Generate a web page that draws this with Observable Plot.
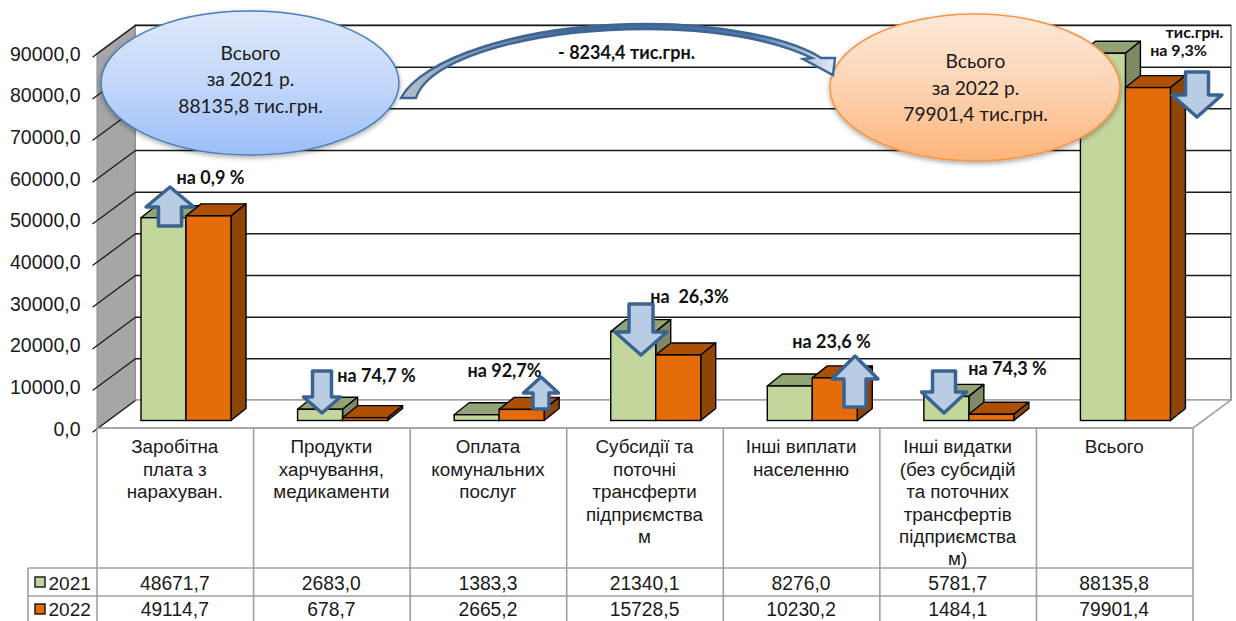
<!DOCTYPE html>
<html><head><meta charset="utf-8">
<style>html,body{margin:0;padding:0;background:#fff}svg{display:block}</style>
<script src="https://cdn.jsdelivr.net/npm/d3@7"></script>
<script src="https://cdn.jsdelivr.net/npm/@observablehq/plot@0.6"></script>
</head><body><script>
const categories = ["Заробітна\nплата з\nнарахуван.","Продукти\nхарчування,\nмедикаменти","Оплата\nкомунальних\nпослуг","Субсидії та\nпоточні\nтрансферти\nпідприємства\nм","Інші виплати\nнаселенню","Інші видатки\n(без субсидій\nта поточних\nтрансфертів\nпідприємства\nм)","Всього"];
const values2021 = [48671.7,2683.0,1383.3,21340.1,8276.0,5781.7,88135.8];
const values2022 = [49114.7,678.7,2665.2,15728.5,10230.2,1484.1,79901.4];
const years = ["2021","2022"];
const yTicks = [0,10000,20000,30000,40000,50000,60000,70000,80000,90000];

// chart frame, in page pixels
const L=97,R=1193,T=53,B=428,W=1236,H=621;
const X=p=>(p-L)/((R-L)/7), Y=p=>(B-p)/((B-T)/90000);
const fmt=v=>v.toFixed(1).replace(".",",");
const BACK={dx:38,dy:-28}, DEPTH={dx:15,dy:-12}, LIFT=-7.5;
const BAR0=44, BARW=45;
const sans="'Liberation Sans',Arial,sans-serif", cal="Lato,'Open Sans','Noto Sans',sans-serif";
const GREEN={front:"#c3d69b",top:"#92a374",side:"#7e8a63"}, ORANGE={front:"#e46c0a",top:"#ac5006",side:"#8f4505"};

const NS="http://www.w3.org/2000/svg";
const el=(n,a,p)=>{const e=document.createElementNS(NS,n);for(const k in a)e.setAttribute(k,a[k]);if(p)p.appendChild(e);return e;};
const poly=(g,pts,fill,stroke,sw)=>el("polygon",{points:pts.map(p=>p.join(",")).join(" "),fill,stroke,"stroke-width":sw,"stroke-linejoin":"round"},g);

// walls and floor
const shell=(i,s)=>{
  const g=el("g",{});
  const x0=s.x(0),x7=s.x(7),y0=s.y(0),y9=s.y(90000),{dx,dy}=BACK;
  poly(g,[[x0+dx,y0+dy],[x7+dx,y0+dy],[x7+dx,y9+dy],[x0+dx,y9+dy]],"#fff","#808080",1.6);
  poly(g,[[x0,y0],[x0+dx,y0+dy],[x7+dx,y0+dy],[x7,y0]],"#fff","#a6a6a6",1.6);
  poly(g,[[x0,y0],[x0+dx,y0+dy],[x0+dx,y9+dy],[x0,y9]],"#a6a6a6","#8c8c8c",1);
  return g;
};
// side and top faces of the 3-D bars
const faces=(vals,j,col)=>(i,s)=>{
  const g=el("g",{});
  vals.forEach((v,k)=>{
    const a=s.x(k)+BAR0+j*BARW,b=a+BARW,y0=s.y(0)+LIFT,y1=s.y(v)+LIFT,{dx,dy}=DEPTH;
    poly(g,[[a,y1],[a+dx,y1+dy],[b+dx,y1+dy],[b,y1]],col.top,"#000",1.4);
    poly(g,[[b,y1],[b+dx,y1+dy],[b+dx,y0+dy],[b,y0]],col.side,"#000",1.4);
  });
  return g;
};
const front=(vals,j,col)=>Plot.rect(vals.map((v,k)=>({k,v})),{
  x1:d=>d.k+(BAR0+j*BARW)/((R-L)/7),x2:d=>d.k+(BAR0+(j+1)*BARW)/((R-L)/7),
  y1:()=>0,y2:d=>d.v,dy:LIFT,fill:col.front,stroke:"#000",strokeWidth:1.4});

// callouts
const arrows=[
  {up:1,tip:[170,187],head:207,end:226,hw:24,sw:11.5},
  {up:0,tip:[322,413],head:397,end:371,hw:18.5,sw:9.5},
  {up:1,tip:[541,377],head:393,end:409,hw:17.5,sw:8},
  {up:0,tip:[641,355],head:332,end:304,hw:26,sw:12},
  {up:1,tip:[855,356],head:379,end:407,hw:23,sw:11},
  {up:0,tip:[944,413],head:392,end:371,hw:22.5,sw:11.5},
  {up:0,tip:[1197,117],head:95,end:72,hw:25,sw:11.5}
];
const overlay=()=>{
  const g=el("g",{}), defs=el("defs",{},g);
  const grad=(id,stops,attrs)=>{const d=el("linearGradient",{id,...attrs},defs);stops.forEach(([o,c])=>el("stop",{offset:o,"stop-color":c},d));};
  grad("gb",[[0,"#dfe9fb"],[.5,"#c3d7f9"],[1,"#9cbff7"]],{x1:0,y1:0,x2:0,y2:1});
  grad("go",[[0,"#fde9da"],[.5,"#fdd3b2"],[1,"#fdb47a"]],{x1:0,y1:0,x2:0,y2:1});
  grad("ga",[[0,"#b4bfca"],[.2,"#7f94ad"],[.4,"#3d6596"],[.8,"#4f76a4"],[1,"#e4ecf6"]],{x1:0,y1:0,x2:1,y2:0});
  const f=el("filter",{id:"sh",x:"-10%",y:"-10%",width:"120%",height:"125%"},defs);
  el("feDropShadow",{dx:0,dy:2,stdDeviation:2.5,"flood-color":"#000","flood-opacity":.35},f);
  el("ellipse",{cx:250,cy:83,rx:149,ry:72,fill:"url(#gb)",stroke:"#4a7ebb","stroke-width":1.5,filter:"url(#sh)"},g);
  el("ellipse",{cx:975,cy:87.5,rx:145,ry:73.5,fill:"url(#go)",stroke:"#f79646","stroke-width":1.6,filter:"url(#sh)"},g);
  el("path",{d:"M401,98 C420,60 520,24 647,24 C720,24 790,38 821,58 L835,58 L833,75 L803,59 L812,58 C770,38 710,29 647,29 C540,29 430,55 416,98 Z",
    fill:"url(#ga)",stroke:"#3d6596","stroke-width":2.4,"stroke-linejoin":"miter"},g);
  for(const a of arrows){
    const [x,y]=a.tip;
    poly(g,[[x,y],[x-a.hw,a.head],[x-a.sw,a.head],[x-a.sw,a.end],[x+a.sw,a.end],[x+a.sw,a.head],[x+a.hw,a.head]],"#b8cce4","#3a6392",3.5);
  }
  return g;
};
const tableLines=()=>{
  const g=el("g",{stroke:"#a0a0a0","stroke-width":1.6});
  const ln=(a,b,c,d)=>el("line",{x1:a,y1:b,x2:c,y2:d},g);
  for(let i=0;i<=7;i++){const x=L+i*(R-L)/7;ln(x,B,x,H);}
  ln(L,B,R,B);ln(28,568,R,568);ln(28,596,R,596);ln(28,568,28,H);
  [[GREEN,577],[ORANGE,604]].forEach(([c,y])=>el("rect",{x:35,y,width:10,height:10,fill:c.front,stroke:"#000","stroke-width":1.3},g));
  return g;
};

const bold=[
  {t:"на 0,9 %",x:210,y:178},{t:"на 74,7 %",x:376,y:376},{t:"на 92,7%",x:504,y:371},
  {t:"на  26,3%",x:689,y:297},{t:"на 23,6 %",x:831,y:342},{t:"на 74,3 %",x:1007,y:369},
  {t:"- 8234,4 тис.грн.",x:626,y:53}
];
const corner=[{t:"на 9,3%",x:1178,y:50.5},{t:"тис.грн.",x:1194,y:32.5}];
const plain=[
  {t:"Всього\nза 2021 р.\n88135,8 тис.грн.",x:250,y:77.5},
  {t:"Всього\nза 2022 р.\n79901,4 тис.грн.",x:975,y:86}
];

document.body.append(Plot.plot({
  width:W,height:H,marginLeft:L,marginRight:W-R,marginTop:T,marginBottom:H-B,
  style:{background:"#fff",fontFamily:sans,overflow:"visible"},
  x:{type:"linear",domain:[0,7],axis:null},
  y:{type:"linear",domain:[0,90000],axis:null},
  marks:[
    shell,
    Plot.ruleY(yTicks.slice(1),{y:d=>d,x1:X(L+BACK.dx),x2:X(R+BACK.dx),dy:BACK.dy,stroke:"#1a1a1a",strokeWidth:1.5}),
    Plot.link(yTicks,{x1:X(L-5),y1:d=>d-900,x2:X(L+BACK.dx),y2:d=>d+6720,stroke:"#1a1a1a",strokeWidth:1.3}),
    Plot.axisY({ticks:yTicks,tickFormat:fmt,tickSize:0,tickPadding:17,fontSize:19.5,label:null,anchor:"left",fill:"#1a1a1a",dy:1}),
    tableLines,
    Plot.text(categories,{x:(d,i)=>i+.5,y:Y(437),dx:-1,text:d=>d,lineAnchor:"top",lineHeight:1.19,fontSize:18.8,fill:"#1a1a1a"}),
    Plot.text(values2021,{x:(d,i)=>i+.5,y:Y(583),dx:-1,text:fmt,fontSize:19.3,fill:"#1a1a1a"}),
    Plot.text(values2022,{x:(d,i)=>i+.5,y:Y(609),dx:-1,text:fmt,fontSize:19.3,fill:"#1a1a1a"}),
    Plot.text(years,{x:X(48),y:(d,i)=>Y(i?609:583),text:d=>d,textAnchor:"start",fontSize:19,fill:"#1a1a1a"}),
    faces(values2021,0,GREEN),front(values2021,0,GREEN),
    faces(values2022,1,ORANGE),front(values2022,1,ORANGE),
    overlay,
    Plot.text(plain,{x:d=>X(d.x),y:d=>Y(d.y),text:"t",fontFamily:cal,fontSize:19.2,lineHeight:1.38,fill:"#1a1a1a"}),
    Plot.text(bold,{x:d=>X(d.x),y:d=>Y(d.y),text:"t",fontFamily:cal,fontWeight:700,fontSize:18,fill:"#111"}),
    Plot.text(corner,{x:d=>X(d.x),y:d=>Y(d.y),text:"t",fontFamily:cal,fontWeight:700,fontSize:16,fill:"#111"})
  ]
}));
</script></body></html>
